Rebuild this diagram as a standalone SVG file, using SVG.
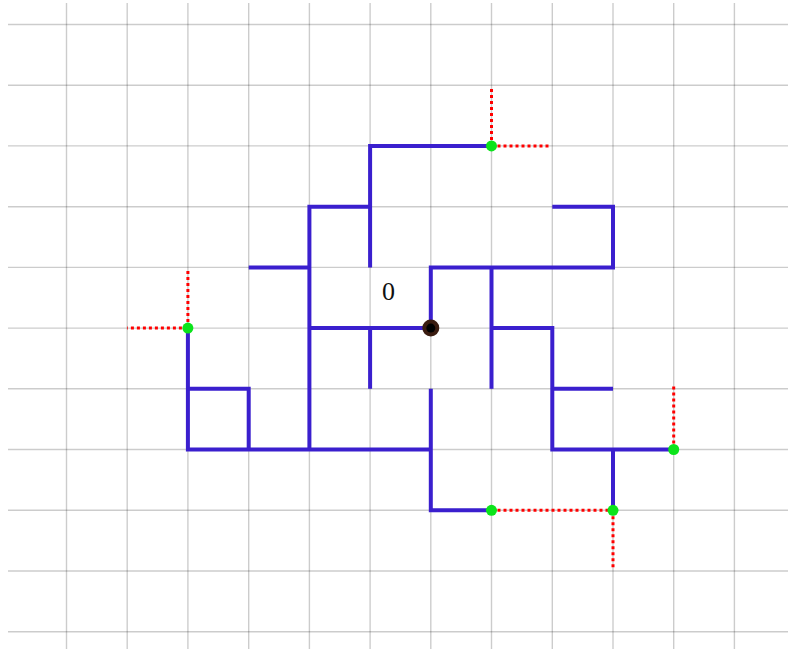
<svg xmlns="http://www.w3.org/2000/svg" width="788" height="649" viewBox="0 0 788 649">
<style>
.grid line{stroke:#000;stroke-opacity:0.2;stroke-width:1.4}
.walk{fill:none;stroke:#3a1fce;stroke-width:4;stroke-linecap:butt;stroke-linejoin:miter}
.red{fill:none;stroke:#f00;stroke-width:3;stroke-dasharray:3 3}
.end{fill:#0be41b}
</style>
<rect width="788" height="649" fill="#fff"/>
<g class="grid">
<line x1="66.5" y1="3" x2="66.5" y2="649"/>
<line x1="127.2" y1="3" x2="127.2" y2="649"/>
<line x1="187.9" y1="3" x2="187.9" y2="649"/>
<line x1="248.7" y1="3" x2="248.7" y2="649"/>
<line x1="309.4" y1="3" x2="309.4" y2="649"/>
<line x1="370.1" y1="3" x2="370.1" y2="649"/>
<line x1="430.8" y1="3" x2="430.8" y2="649"/>
<line x1="491.5" y1="3" x2="491.5" y2="649"/>
<line x1="552.3" y1="3" x2="552.3" y2="649"/>
<line x1="613" y1="3" x2="613" y2="649"/>
<line x1="673.7" y1="3" x2="673.7" y2="649"/>
<line x1="734.4" y1="3" x2="734.4" y2="649"/>
<line x1="8" y1="24.5" x2="788" y2="24.5"/>
<line x1="8" y1="85.2" x2="788" y2="85.2"/>
<line x1="8" y1="145.9" x2="788" y2="145.9"/>
<line x1="8" y1="206.7" x2="788" y2="206.7"/>
<line x1="8" y1="267.4" x2="788" y2="267.4"/>
<line x1="8" y1="328.1" x2="788" y2="328.1"/>
<line x1="8" y1="388.8" x2="788" y2="388.8"/>
<line x1="8" y1="449.5" x2="788" y2="449.5"/>
<line x1="8" y1="510.3" x2="788" y2="510.3"/>
<line x1="8" y1="571" x2="788" y2="571"/>
<line x1="8" y1="631.7" x2="788" y2="631.7"/>
</g>
<g id="connectors">
<g class="walk">
<path d="M491.5 145.9H370.1V267.4"/>
<path d="M370.1 206.7H309.4V449.5"/>
<path d="M248.7 267.4H309.4"/>
<path d="M309.4 328.1H430.8"/>
<path d="M370.1 328.1V388.8"/>
<path d="M187.9 328.1V449.5H430.8"/>
<path d="M187.9 388.8H248.7V449.5"/>
<path d="M430.8 388.8V510.3H491.5"/>
<path d="M430.8 328.1V267.4H613V206.7H552.3"/>
<path d="M491.5 267.4V388.8"/>
<path d="M491.5 328.1H552.3V449.5H673.7"/>
<path d="M552.3 388.8H613"/>
<path d="M613 449.5V510.3"/>
</g>
<g class="red">
<path d="M491.5 145.9V88"/>
<path d="M491.5 145.9H549"/>
<path d="M187.9 328.1V270"/>
<path d="M187.9 328.1H127.2"/>
<path d="M673.7 449.5V386"/>
<path d="M491.5 510.3H613"/>
<path d="M613 510.3V570"/>
</g>
</g>
<g id="ends">
<circle class="end" cx="491.5" cy="145.9" r="5.5"/>
<circle class="end" cx="187.9" cy="328.1" r="5.5"/>
<circle class="end" cx="673.7" cy="449.5" r="5.5"/>
<circle class="end" cx="491.5" cy="510.3" r="5.5"/>
<circle class="end" cx="613" cy="510.3" r="5.5"/>
</g>
<g id="origin">
<circle cx="430.8" cy="328.1" r="8.5" fill="#3a1c10"/>
<circle cx="430.8" cy="328.1" r="4.5" fill="#000"/>
<text x="388.5" y="300" font-family="Liberation Serif, serif" font-size="26" text-anchor="middle" fill="#111">0</text>
</g>
</svg>
